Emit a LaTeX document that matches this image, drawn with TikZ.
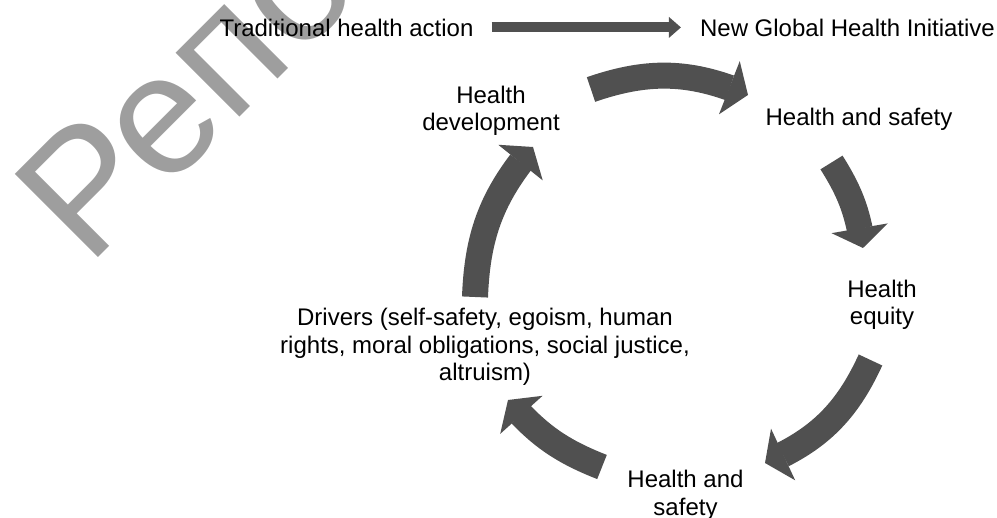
\documentclass[tikz,border=0pt]{standalone}
\usepackage{fontspec}
\setmainfont{Liberation Sans}
\usetikzlibrary{arrows.meta,bending}
\definecolor{arrowgray}{RGB}{80,80,80}
\definecolor{wmgray}{RGB}{158,158,158}
\begin{document}
\begin{tikzpicture}[x=1pt,y=1pt,
  lbl/.style={font=\fontsize{24}{27.4}\selectfont, inner sep=0pt, align=center, anchor=base},
  cyc/.style={draw=arrowgray, line width=26pt, -{Triangle[length=20pt,width=57pt,line width=0pt]}},
  flatarrow/.style={draw=arrowgray, line width=10pt, -{Triangle[length=12pt,width=21pt,line width=0pt]}}]
\useasboundingbox (0,0) rectangle (997,518);
% watermark
\node[rotate=45, anchor=base west, inner sep=0pt, text=wmgray,
      font=\fontsize{171}{171}\selectfont] (wm) at (88.8,250.1) {Репо};
% labels (multi-line nodes: base = last line)
\node[lbl] (trad) at (346.5,481) {Traditional health action};
\node[lbl] (ngi)  at (847.5,481) {New Global Health Initiative};
\node[lbl] (hdev) at (491,387) {Health\\development};
\node[lbl] (hs1)  at (859,392) {Health and safety};
\node[lbl] (heq)  at (882,193) {Health\\equity};
\node[lbl] (hs2)  at (685.5,2.6) {Health and\\safety};
\node[lbl] (drv)  at (485,137.5) {Drivers (self-safety, egoism, human\\rights, moral obligations, social justice,\\altruism)};
% straight arrow
\draw[flatarrow, shorten <=18pt, shorten >=19pt] ([yshift=1pt]trad.east) -- ([yshift=1pt]ngi.west);
% cycle arrow end points
\coordinate (a1s) at (591,428.5);  \coordinate (a1e) at (748,423);
\coordinate (a2s) at (831.5,355.5);\coordinate (a2e) at (863,270);
\coordinate (a3s) at (870.5,158);  \coordinate (a3e) at (765,55);
\coordinate (a4s) at (602,51);     \coordinate (a4e) at (508,118);
\coordinate (a5s) at (475,221);    \coordinate (a5e) at (533,371);
\draw[cyc] (a1s) to[bend left=21] (a1e);
\draw[cyc] (a2s) to[bend left=12] (a2e);
\draw[cyc] (a3s) to[bend left=21] (a3e);
\draw[cyc] (a4s) to[bend left=14] (a4e);
\draw[cyc] (a5s) to[bend left=19] (a5e);
\end{tikzpicture}
\end{document}
